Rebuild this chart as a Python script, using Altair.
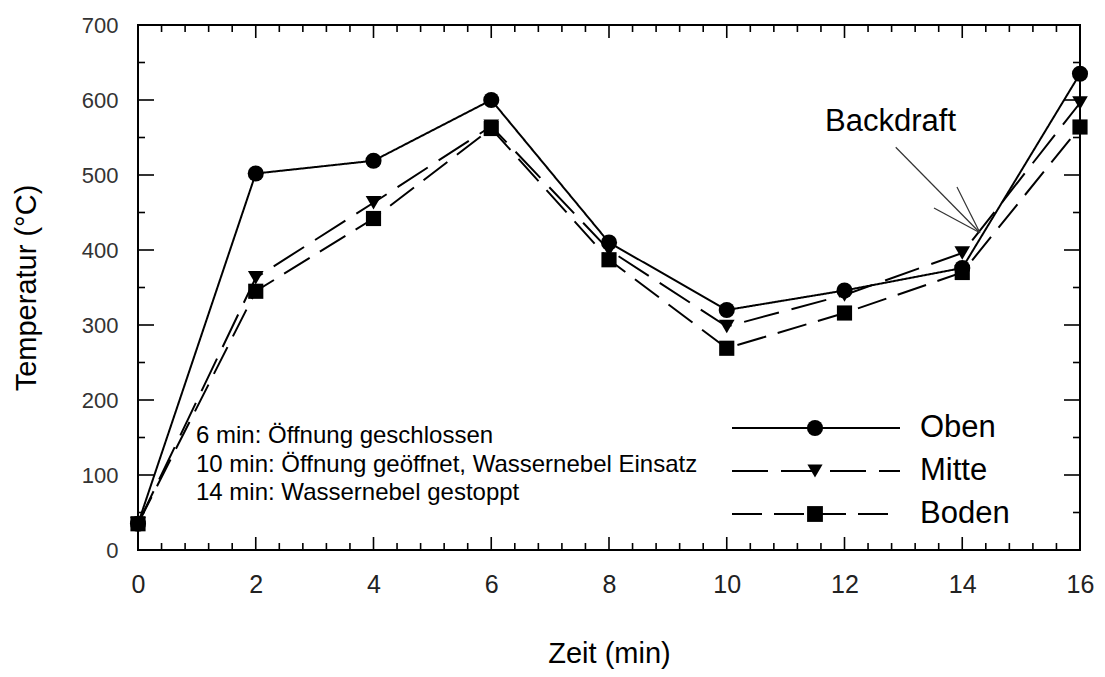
import altair as alt
import pandas as pd

# ---- data ----
minutes = [0, 2, 4, 6, 8, 10, 12, 14, 16]
oben  = [35, 502, 519, 600, 410, 320, 346, 376, 635]
mitte = [35, 363, 463, 565, 400, 298, 340, 396, 596]
boden = [35, 345, 442, 562, 387, 269, 316, 370, 564]
series_names = ["Oben", "Mitte", "Boden"]

x_major = [0, 2, 4, 6, 8, 10, 12, 14, 16]
x_minor = [round(i * 0.4, 1) for i in range(41) if i % 5 != 0]
y_major = [0, 100, 200, 300, 400, 500, 600, 700]
y_minor = [50, 150, 250, 350, 450, 550, 650]

notes = ["6 min: Öffnung geschlossen",
         "10 min: Öffnung geöffnet, Wassernebel Einsatz",
         "14 min: Wassernebel gestoppt"]
label_text = "Backdraft"
label_x, label_y = 11.67, 559
arrow_x = [12.87, 13.52, 13.91]   # start, barb1, barb2
arrow_y = [537, 456, 484]
arrow_tip = (14.30, 423)

# ---- build tables ----
rows = []
for name, vals in zip(series_names, [oben, mitte, boden]):
    for m, v in zip(minutes, vals):
        rows.append({"series": name, "min": m, "temp": v})
df = pd.DataFrame(rows)

W, H = 942, 525
FONT = "Liberation Sans"
XT, YT = "Zeit (min)", "Temperatur (°C)"
xs = alt.Scale(domain=[0, 16], nice=False, zero=False)
ys = alt.Scale(domain=[0, 700], nice=False, zero=False)

def X(**kw):
    return alt.X("min:Q", scale=xs, title=XT, **kw)

def Y(**kw):
    return alt.Y("temp:Q", scale=ys, title=YT, **kw)

dash_scale = alt.Scale(domain=series_names, range=[[1, 0], [36, 13], [30, 12]])
shape_scale = alt.Scale(domain=series_names, range=["circle", "triangle-down", "square"])
size_scale = alt.Scale(domain=series_names, range=[260, 230, 250])

lines = alt.Chart(df).mark_line(color="black", strokeWidth=2).encode(
    x=X(axis=alt.Axis(values=x_major, format="d", ticks=False, domain=False, grid=False,
                      labelFlush=False, labelPadding=22, labelFontSize=25, labelColor="#222",
                      titlePadding=42)),
    y=Y(axis=alt.Axis(values=y_major, format="d", ticks=False, domain=False, grid=False,
                      labelFlush=False, labelPadding=20, titlePadding=40)),
    strokeDash=alt.StrokeDash("series:N", scale=dash_scale, legend=None),
    detail="series:N",
)

points = alt.Chart(df).mark_point(filled=True, color="black", opacity=1).encode(
    x=X(), y=Y(),
    shape=alt.Shape("series:N", scale=shape_scale, legend=None),
    size=alt.Size("series:N", scale=size_scale, legend=None),
)

def xticks(vals, y0, y1):
    return alt.Chart(pd.DataFrame({"min": vals})).mark_rule(color="black", strokeWidth=1.6).encode(
        x=X(), y=alt.value(y0), y2=alt.value(y1))

def yticks(vals, x0, x1):
    return alt.Chart(pd.DataFrame({"temp": vals})).mark_rule(color="black", strokeWidth=1.6).encode(
        y=Y(), x=alt.value(x0), x2=alt.value(x1))

ticks = [
    xticks(x_major, H, H - 13), xticks(x_minor, H, H - 7),
    xticks(x_major, 0, 13), xticks(x_minor, 0, 7),
    yticks(y_major, 0, 16), yticks(y_minor, 0, 7),
    yticks(y_major, W, W - 16), yticks(y_minor, W, W - 7),
]

# ---- annotations ----
note_text = alt.Chart(pd.DataFrame({"a": [0]})).mark_text(
    text=notes, align="left", baseline="alphabetic", fontSize=24, font=FONT,
    lineHeight=28.5, color="black").encode(x=alt.value(58), y=alt.value(418))

bd_text = alt.Chart(pd.DataFrame({"min": [label_x], "temp": [label_y], "t": [label_text]})).mark_text(
    align="left", baseline="alphabetic", fontSize=31, font=FONT, color="black").encode(
    x=X(), y=Y(), text="t:N")

arrow_df = pd.DataFrame({"min": arrow_x, "temp": arrow_y,
                         "x2": [arrow_tip[0]] * 3, "y2": [arrow_tip[1]] * 3})
arrow = alt.Chart(arrow_df).mark_rule(color="#333", strokeWidth=1.2).encode(
    x=X(), y=Y(), x2="x2:Q", y2="y2:Q")

# ---- legend (manual, inside plot) ----
legend_layers = []
dashes = [[1, 0], [36, 13], [30, 12]]
shapes = ["circle", "triangle-down", "square"]
sizes = [260, 230, 250]
base = alt.Chart(pd.DataFrame({"a": [0]}))
for i, name in enumerate(series_names):
    ypix = 403 + 43 * i
    legend_layers.append(base.mark_rule(color="black", strokeWidth=2, strokeDash=dashes[i]).encode(
        x=alt.value(594), x2=alt.value(762), y=alt.value(ypix)))
    legend_layers.append(base.mark_point(filled=True, color="black", opacity=1,
                                         shape=shapes[i], size=sizes[i]).encode(
        x=alt.value(677), y=alt.value(ypix)))
    legend_layers.append(base.mark_text(text=name, align="left", baseline="middle",
                                        fontSize=31, font=FONT, color="black").encode(
        x=alt.value(782), y=alt.value(ypix)))

chart = alt.layer(lines, points, *ticks, note_text, bd_text, arrow, *legend_layers).properties(
    width=W, height=H,
    autosize=alt.AutoSizeParams(type="none"),
    padding={"left": 130, "top": 17, "right": 15, "bottom": 119},
    background="white",
).configure_view(stroke="black", strokeWidth=2).configure_axis(
    labelFont=FONT, labelFontSize=22, labelColor="#333",
    titleFont=FONT, titleFontSize=29, titleFontWeight="normal", titleColor="black",
)

chart.save("out.html", embed_options={"renderer": "svg", "actions": False})
